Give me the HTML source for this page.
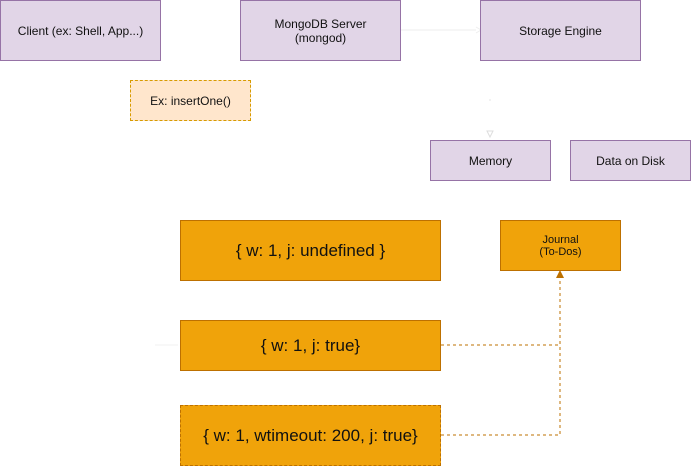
<!DOCTYPE html>
<html><head><style>
html,body{margin:0;padding:0;background:#fff;width:691px;height:466px;overflow:hidden}
body{position:relative;font-family:"Liberation Sans",Arial,sans-serif}
.b{position:absolute;box-sizing:border-box;display:flex;align-items:center;justify-content:center;text-align:center;color:#111}
.p{background:#e1d5e7;border:1px solid #9673a6;font-size:12px}
.o{background:#f0a30a;border:1px solid #bd7000;font-size:17px}
svg{position:absolute;left:0;top:0}
</style></head><body>
<svg width="691" height="466">
<line x1="400" y1="30" x2="476" y2="30" stroke="#eee" stroke-width="1"/>
<path d="M476 27 L481 30 L476 33" fill="none" stroke="#eee"/>
<rect x="489.5" y="99.5" width="1" height="1" fill="#ccc"/>
<path d="M487 131 L490 137 L493 131 Z" fill="none" stroke="#ddd"/>
<line x1="155" y1="345" x2="178" y2="345" stroke="#f0f0f0"/>
<g stroke="#bd7000" stroke-dasharray="3,3" fill="none">
<line x1="441" y1="345" x2="560" y2="345"/>
<polyline points="441,435 560,435 560,276"/>
</g>
<path d="M556 278 L560 270 L564 278 Z" fill="#bd7000"/>
</svg>
<div class="b p" style="left:0;top:0;width:161px;height:61px">Client (ex: Shell, App...)</div>
<div class="b p" style="left:240;left:240px;top:0;width:161px;height:61px">MongoDB Server<br>(mongod)</div>
<div class="b p" style="left:480px;top:0;width:161px;height:61px">Storage Engine</div>
<div class="b" style="left:130px;top:80px;width:121px;height:41px;background:#ffe6cc;border:1px dashed #d79b00;font-size:12px">Ex: insertOne()</div>
<div class="b p" style="left:430px;top:140px;width:121px;height:41px">Memory</div>
<div class="b p" style="left:570px;top:140px;width:121px;height:41px">Data on Disk</div>
<div class="b o" style="left:180px;top:220px;width:261px;height:61px">{ w: 1, j: undefined }</div>
<div class="b o" style="left:500px;top:220px;width:121px;height:51px;font-size:11px">Journal<br>(To-Dos)</div>
<div class="b o" style="left:180px;top:320px;width:261px;height:51px">{ w: 1, j: true}</div>
<div class="b o" style="left:180px;top:405px;width:261px;height:61px;border-style:dashed">{ w: 1, wtimeout: 200, j: true}</div>
</body></html>
